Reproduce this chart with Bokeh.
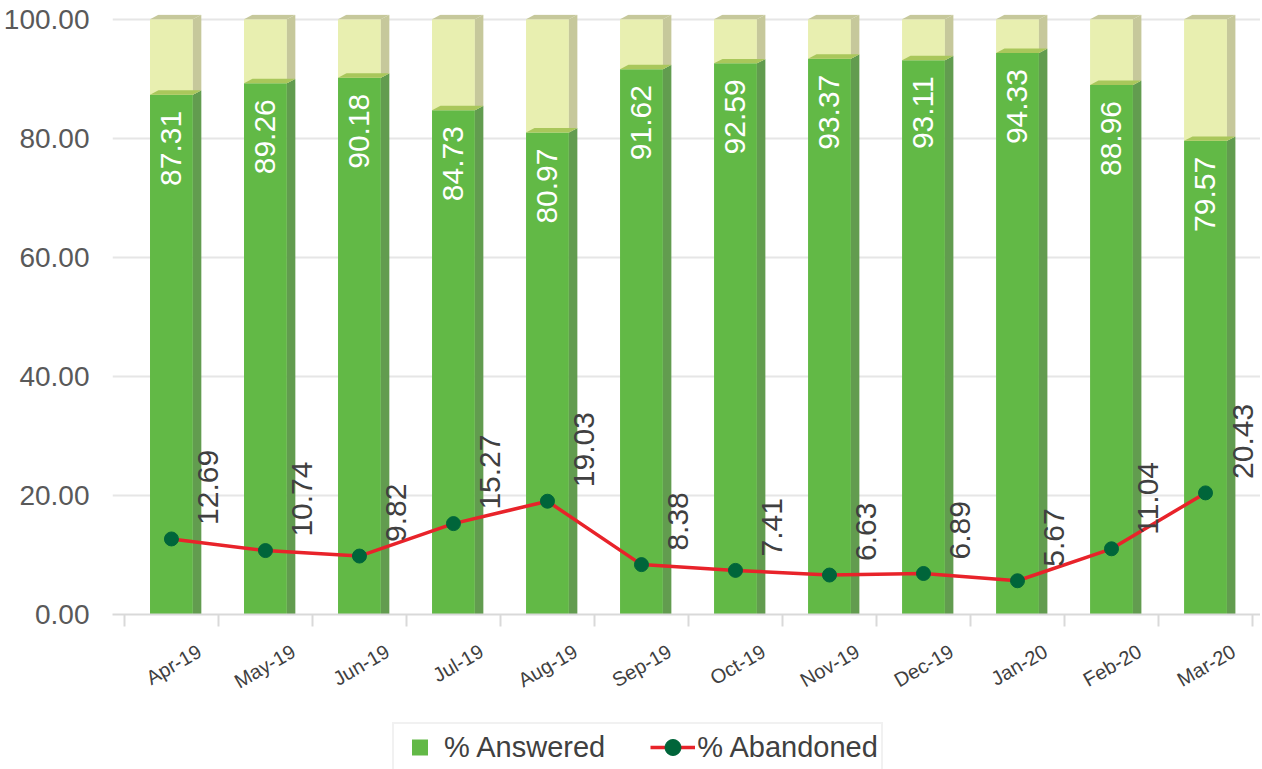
import math
from bokeh.plotting import figure
from bokeh.layouts import column
from bokeh.models import (ColumnDataSource, FixedTicker, NumeralTickFormatter, Range1d,
                          Legend, LegendItem, LabelSet)
from bokeh.core.properties import value
from bokeh.embed import file_html
from bokeh.resources import INLINE

# ---------------- data ----------------
months = ["Apr-19", "May-19", "Jun-19", "Jul-19", "Aug-19", "Sep-19",
          "Oct-19", "Nov-19", "Dec-19", "Jan-20", "Feb-20", "Mar-20"]
answered = [87.31, 89.26, 90.18, 84.73, 80.97, 91.62, 92.59, 93.37, 93.11, 94.33, 88.96, 79.57]
abandoned = [12.69, 10.74, 9.82, 15.27, 19.03, 8.38, 7.41, 6.63, 6.89, 5.67, 11.04, 20.43]
y_ticks = [0, 20, 40, 60, 80, 100]
series_names = ["% Answered", "% Abandoned"]

# ---------------- style ----------------
FONT = "Liberation Sans"
GREEN = "#62b946"
GREEN_SIDE = "#629c4f"
GREEN_TOP = "#a9c75b"
LIGHT = "#e8efb0"
LIGHT_SIDE = "#c6c89b"
RED = "#e8232a"
DOT = "#00653a"
HW = 0.228      # half width of the bar front face (category units)
DX = 0.09       # depth offset in x (category units)
DY = 0.75       # depth offset in y (value units)
LBL_SHIFT = 0.3  # category label anchor shift (category units)

n = len(months)
xs = list(range(n))
totals = [a + b for a, b in zip(answered, abandoned)]

src = ColumnDataSource(dict(
    x=xs, month=months, answered=answered, abandoned=abandoned, total=totals,
    ans_lbl=[f"{v:.2f}" for v in answered],
    ab_lbl=[f"{v:.2f}" for v in abandoned],
    xb=[x + 0.5 for x in xs],
))

p = figure(frame_width=1148, frame_height=600, output_backend="svg", toolbar_location=None,
           x_range=Range1d(-0.627, 11.585), y_range=Range1d(0, 100.8),
           min_border_left=105, min_border_right=0, min_border_top=14, min_border_bottom=95)
p.outline_line_color = None
p.background_fill_color = "white"

# front faces
p.vbar(x="x", bottom="answered", top="total", width=2 * HW, source=src,
       fill_color=LIGHT, line_color=None)
p.vbar(x="x", bottom=0, top="answered", width=2 * HW, source=src,
       fill_color=GREEN, line_color=None)

# 3D side and top faces computed from the data
g_side_x, g_side_y, l_side_x, l_side_y = [], [], [], []
g_top_x, g_top_y, l_top_x, l_top_y = [], [], [], []
for x, a, t in zip(xs, answered, totals):
    r0, r1 = x + HW, x + HW + DX
    g_side_x.append([r0, r1, r1, r0]); g_side_y.append([0, 0, a + DY, a])
    l_side_x.append([r0, r1, r1, r0]); l_side_y.append([a, a + DY, t + DY, t])
    g_top_x.append([x - HW, x + HW, r1, x - HW + DX]); g_top_y.append([a, a, a + DY, a + DY])
    l_top_x.append([x - HW, x + HW, r1, x - HW + DX]); l_top_y.append([t, t, t + DY, t + DY])
p.patches(g_side_x, g_side_y, fill_color=GREEN_SIDE, line_color=None)
p.patches(l_side_x, l_side_y, fill_color=LIGHT_SIDE, line_color=None)
p.patches(g_top_x, g_top_y, fill_color=GREEN_TOP, line_color=None)
p.patches(l_top_x, l_top_y, fill_color=LIGHT_SIDE, line_color=None)

# line
p.line(x="x", y="abandoned", source=src, line_color=RED, line_width=3.5)
p.scatter(x="x", y="abandoned", source=src, marker="circle", size=14,
          fill_color=DOT, line_color=DOT)

# labels
ans_labels = LabelSet(x="x", y="answered", text="ans_lbl", source=src, angle=math.pi / 2,
                      text_align="right", text_baseline="middle", y_offset=-16,
                      text_color="white", text_font=value(FONT), text_font_size="30px")
ab_labels = LabelSet(x="xb", y="abandoned", text="ab_lbl", source=src, angle=math.pi / 2,
                     text_align="left", text_baseline="middle", x_offset=-10, y_offset=14,
                     text_color="#404040", text_font=value(FONT), text_font_size="30px")
p.add_layout(ans_labels)
p.add_layout(ab_labels)

# axes
p.yaxis.ticker = FixedTicker(ticks=y_ticks)
p.yaxis.formatter = NumeralTickFormatter(format="0.00")
p.yaxis.axis_line_color = None
p.yaxis.major_tick_line_color = None
p.yaxis.minor_tick_line_color = None
p.yaxis.major_label_standoff = 17
p.yaxis.major_label_text_font = FONT
p.yaxis.major_label_text_font_size = "28px"
p.yaxis.major_label_text_color = "#595959"

lbl_pos = [x + LBL_SHIFT for x in xs]
p.xaxis.ticker = FixedTicker(ticks=lbl_pos, minor_ticks=[x - 0.5 for x in xs] + [n - 0.5])
p.xaxis.major_label_overrides = {t: m for t, m in zip(lbl_pos, months)}
p.xaxis.major_label_orientation = math.pi / 6
p.xaxis.major_tick_line_color = None
p.xaxis.minor_tick_line_color = "#d9d9d9"
p.xaxis.minor_tick_line_width = 2
p.xaxis.minor_tick_in = 0
p.xaxis.minor_tick_out = 12
p.xaxis.axis_line_color = "#d9d9d9"
p.xaxis.axis_line_width = 2
p.xaxis.major_label_text_font = FONT
p.xaxis.major_label_text_font_size = "20px"
p.xaxis.major_label_text_color = "#404040"
p.xaxis.major_label_standoff = 23

p.xgrid.grid_line_color = None
p.ygrid.grid_line_color = "#e6e6e6"
p.ygrid.grid_line_width = 2

# ---------------- legend strip ----------------
lg = figure(width=1253, height=63, output_backend="svg", toolbar_location=None,
            x_range=Range1d(0, 1), y_range=Range1d(0, 1),
            x_axis_location=None, y_axis_location=None,
            min_border_left=0, min_border_right=0, min_border_top=0, min_border_bottom=0)
lg.outline_line_color = None
lg.xgrid.grid_line_color = None
lg.ygrid.grid_line_color = None
nan = float("nan")
g_sq = lg.scatter(x=[nan], y=[nan], marker="square", size=18, fill_color=GREEN, line_color=None)
g_ln = lg.line(x=[nan, nan], y=[nan, nan], line_color=RED, line_width=3.5)
g_dt = lg.scatter(x=[nan], y=[nan], marker="circle", size=14, fill_color=DOT, line_color=DOT)
legend = Legend(items=[LegendItem(label=series_names[0], renderers=[g_sq]),
                       LegendItem(label=series_names[1], renderers=[g_ln, g_dt])],
                orientation="horizontal", location=(280, 0),
                label_text_font=FONT, label_text_font_size="29px", label_text_color="#404040",
                glyph_width=45, glyph_height=40, spacing=45, padding=3, label_standoff=2,
                border_line_color="#e3e3e3", border_line_width=2, margin=0,
                background_fill_color="white")
lg.add_layout(legend)

layout = column(p, lg, spacing=0)
open("out.html", "w").write(file_html(layout, INLINE))
